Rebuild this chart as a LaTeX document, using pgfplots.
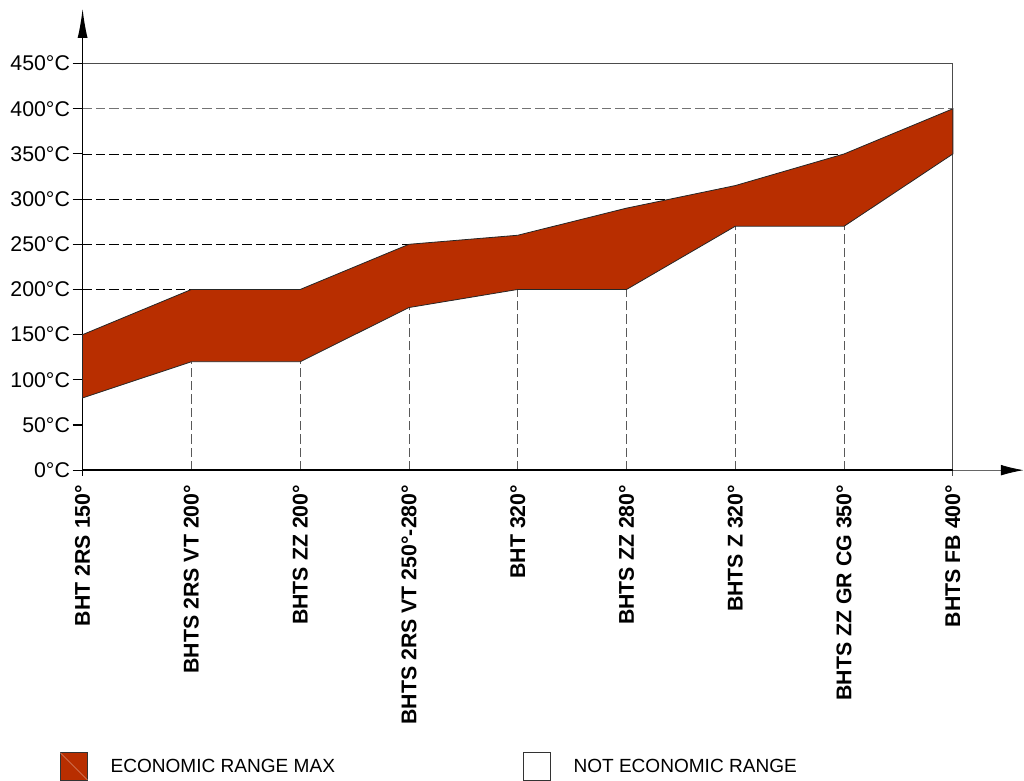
\documentclass[border=0pt]{standalone}
\usepackage{fontspec}
\setmainfont{Liberation Sans}
\usepackage{pgfplots}
\pgfplotsset{compat=1.18}
\usetikzlibrary{arrows.meta}
\definecolor{econ}{RGB}{184,46,0}
\begin{document}
\begin{tikzpicture}
\begin{axis}[
  scale only axis,
  width=706.5pt, height=346.5pt,
  xmin=0, xmax=8.65, ymin=0, ymax=510.8,
  axis lines=left,
  x axis line style={line width=0.6pt, black!60, -{Latex[length=17pt,width=8pt,color=black,fill=black]}},
  y axis line style={line width=1pt, -{Latex[length=22pt,width=7.5pt]}},
  ytick={0,50,...,450},
  yticklabels={0°C,50°C,100°C,150°C,200°C,250°C,300°C,350°C,400°C,450°C},
  yticklabel style={font=\fontsize{16pt}{18pt}\selectfont, xshift=1.5pt},
  ytick style={line width=0.8pt, black},
  tick align=outside,
  major tick length=7.5pt,
  xtick={0,...,8},
  xticklabels={BHT 2RS 150°, BHTS 2RS VT 200°, BHTS ZZ 200°, BHTS 2RS VT 250°-280°, BHT 320°, BHTS ZZ 280°, BHTS Z 320°, BHTS ZZ GR CG 350°, BHTS FB 400°},
  xticklabel style={rotate=90, anchor=east, font=\fontsize{16pt}{18pt}\selectfont\bfseries},
  xtick style={draw=none},
  clip=false,
  legend columns=2,
  legend style={draw=none, fill=none, inner sep=0pt,
    at={(axis description cs:-0.0244,-0.642)}, anchor=west,
    font=\fontsize{14.3pt}{16pt}\selectfont,
    /tikz/every even column/.append style={column sep=139pt},
    /tikz/every odd column/.append style={column sep=15pt}},
  legend cell align=left,
]
% frame lines
\addplot[black!70, line width=0.6pt, forget plot] coordinates {(0,450) (8,450)};
\addplot[black!70, line width=0.6pt, forget plot] coordinates {(8,-6) (8,450)};
% horizontal dashed guides
\addplot[black, line width=0.6pt, dash pattern=on 7pt off 3pt, forget plot] coordinates {(0,200) (1,200)};
\addplot[black, line width=0.6pt, dash pattern=on 7pt off 3pt, forget plot] coordinates {(0,250) (3,250)};
\addplot[black, line width=0.6pt, dash pattern=on 7pt off 3pt, forget plot] coordinates {(0,300) (5.4,300)};
\addplot[black, line width=0.6pt, dash pattern=on 7pt off 3pt, forget plot] coordinates {(0,350) (7,350)};
\addplot[black!55, line width=0.8pt, dash pattern=on 7pt off 3pt, forget plot] coordinates {(0,400) (8,400)};
% vertical dashed guides
\addplot[black!65, line width=0.6pt, dash pattern=on 7pt off 3pt, forget plot] coordinates {(1,0) (1,120)};
\addplot[black!65, line width=0.6pt, dash pattern=on 7pt off 3pt, forget plot] coordinates {(2,0) (2,120)};
\addplot[black!65, line width=0.6pt, dash pattern=on 7pt off 3pt, forget plot] coordinates {(3,0) (3,180)};
\addplot[black!65, line width=0.6pt, dash pattern=on 7pt off 3pt, forget plot] coordinates {(4,0) (4,200)};
\addplot[black!65, line width=0.6pt, dash pattern=on 7pt off 3pt, forget plot] coordinates {(5,0) (5,200)};
\addplot[black!65, line width=0.6pt, dash pattern=on 7pt off 3pt, forget plot] coordinates {(6,0) (6,270)};
\addplot[black!65, line width=0.6pt, dash pattern=on 7pt off 3pt, forget plot] coordinates {(7,0) (7,270)};
% economic range band
\addplot[fill=econ, draw=black!85, line width=0.6pt, forget plot] coordinates {
  (0,150) (1,200) (2,200) (3,250) (4,260) (5,290) (6,315) (7,350) (8,400)
  (8,350) (7,270) (6,270) (5,200) (4,200) (3,180) (2,120) (1,120) (0,80)} -- cycle;
% heavy x axis within the frame, small stub below origin
\addplot[black, line width=1.5pt, forget plot] coordinates {(0,0) (8,0)};
\addplot[black, line width=1pt, forget plot] coordinates {(0,-6) (0,0)};
% legend
\addlegendimage{legend image code/.code={
  \draw[fill=econ, draw=black!80, line width=0.6pt] (0pt,-10.2pt) rectangle (20.5pt,10.2pt);
  \draw[econ!55!white, line width=0.4pt] (0pt,10.2pt) -- (20.5pt,-10.2pt);}}
\addlegendentry{ECONOMIC RANGE MAX}
\addlegendimage{legend image code/.code={
  \draw[fill=white, draw=black!80, line width=0.6pt] (0pt,-10.2pt) rectangle (20.5pt,10.2pt);}}
\addlegendentry{NOT ECONOMIC RANGE}
\end{axis}
\path ([yshift=6pt]current bounding box.north) ([xshift=-4.5pt]current bounding box.west);
\end{tikzpicture}
\end{document}
